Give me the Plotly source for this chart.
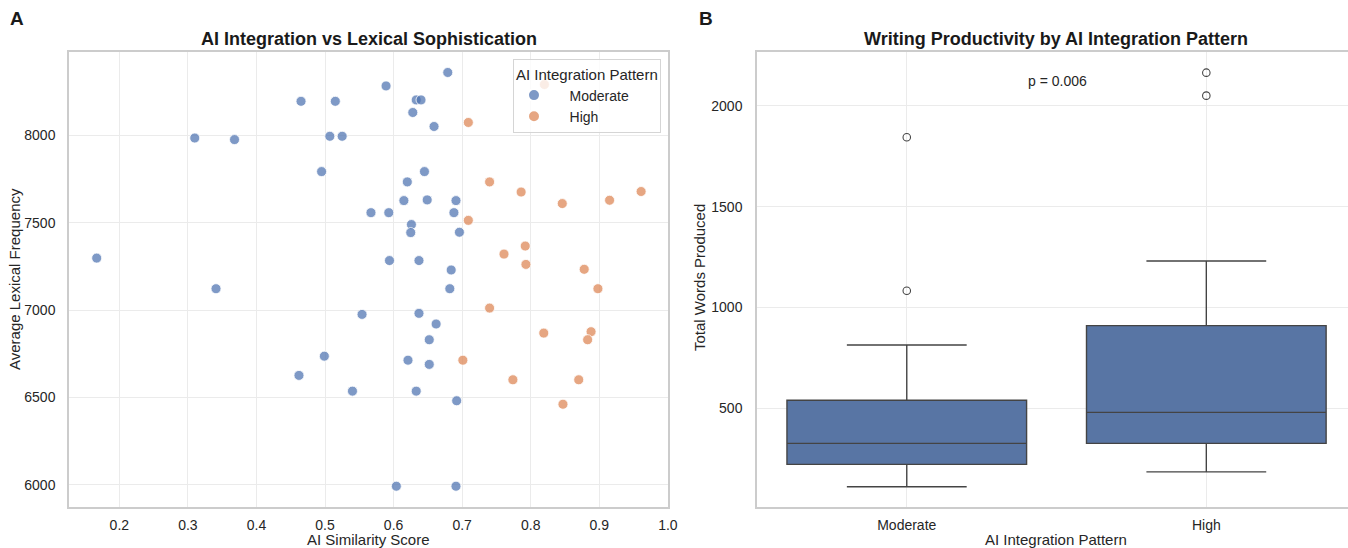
import plotly.graph_objects as go

# ---------------- data ----------------
mod_x = [0.167, 0.341, 0.310, 0.368, 0.465, 0.515, 0.507, 0.525, 0.495, 0.567,
         0.679, 0.589, 0.633, 0.640, 0.628, 0.659, 0.645, 0.620, 0.615, 0.649,
         0.691, 0.593, 0.688, 0.626, 0.625, 0.696, 0.594, 0.637, 0.684, 0.682,
         0.554, 0.637, 0.662, 0.652, 0.499, 0.621, 0.652, 0.462, 0.540, 0.633,
         0.692, 0.604, 0.691]
mod_y = [7297, 7122, 7984, 7975, 8194, 8194, 7994, 7994, 7792, 7557,
         8359, 8282, 8202, 8202, 8130, 8050, 7792, 7733, 7626, 7630,
         7626, 7557, 7557, 7489, 7443, 7445, 7283, 7283, 7229, 7122,
         6975, 6981, 6920, 6830, 6736, 6713, 6689, 6626, 6536, 6536,
         6481, 5992, 5992]
high_x = [0.820, 0.709, 0.740, 0.786, 0.961, 0.846, 0.915, 0.709, 0.792, 0.761,
          0.793, 0.878, 0.898, 0.740, 0.819, 0.888, 0.883, 0.701, 0.774, 0.870,
          0.847]
high_y = [8290, 8073, 7733, 7675, 7678, 7609, 7628, 7513, 7366, 7320,
          7261, 7233, 7122, 7011, 6868, 6876, 6830, 6713, 6601, 6601,
          6461]

groups = ["Moderate", "High"]
box_lowerfence = [111, 185]
box_q1 = [222, 326]
box_median = [326, 480]
box_q3 = [540, 910]
box_upperfence = [814, 1231]
outliers = {"Moderate": [1083, 1845], "High": [2051, 2165]}
p_text = "p = 0.006"

# ---------------- style ----------------
FW, FH = 1348, 548
FONT = "Liberation Sans, Arial, sans-serif"
TXT = "#262626"
GRID = "#ebebeb"
FRAME = "#cccccc"
BLUE = "rgba(76,114,176,0.72)"
ORANGE = "rgba(221,132,82,0.72)"
BOXFILL = "#5875a4"
BOXLINE = "#444444"
NB = "\u00a0" * 4

def px_x(p):
    return p / FW

def px_y(p):
    return 1 - p / FH

L_left, L_right = 69, 668
R_left = 757
TOP, BOT = 51.5, 506.5

fig = go.Figure()

fig.add_trace(go.Scatter(
    x=mod_x, y=mod_y, mode="markers", name=NB + "Moderate",
    marker=dict(color=BLUE, size=10, line=dict(color="white", width=0.8)),
    xaxis="x", yaxis="y"))
fig.add_trace(go.Scatter(
    x=high_x, y=high_y, mode="markers", name=NB + "High",
    marker=dict(color=ORANGE, size=10, line=dict(color="white", width=0.8)),
    xaxis="x", yaxis="y"))

for i, g in enumerate(groups):
    fig.add_trace(go.Box(
        x=[i], q1=[box_q1[i]], median=[box_median[i]], q3=[box_q3[i]],
        lowerfence=[box_lowerfence[i]], upperfence=[box_upperfence[i]],
        width=0.8, whiskerwidth=0.5, fillcolor=BOXFILL,
        line=dict(color=BOXLINE, width=1.4), boxpoints=False,
        showlegend=False, xaxis="x2", yaxis="y2", hoverinfo="skip"))
    fig.add_trace(go.Scatter(
        x=[i] * len(outliers[g]), y=outliers[g], mode="markers",
        marker=dict(symbol="circle-open", size=7.5, color=BOXLINE, line=dict(width=1.1)),
        showlegend=False, xaxis="x2", yaxis="y2"))

axis_common = dict(
    showgrid=True, gridcolor=GRID, gridwidth=1, zeroline=False,
    showline=True, linecolor=FRAME, linewidth=1.5,
    ticks="outside", tickcolor="rgba(0,0,0,0)",
    tickfont=dict(family=FONT, size=14, color=TXT), automargin=False)

fig.update_layout(
    width=FW, height=FH, margin=dict(l=0, r=0, t=0, b=0),
    paper_bgcolor="white", plot_bgcolor="white",
    font=dict(family=FONT, color=TXT),
    xaxis=dict(domain=[px_x(L_left), px_x(L_right)], range=[0.1266, 1.0002],
               tickvals=[0.2, 0.3, 0.4, 0.5, 0.6, 0.7, 0.8, 0.9, 1.0],
               ticktext=["0.2", "0.3", "0.4", "0.5", "0.6", "0.7", "0.8", "0.9", "1.0"],
               anchor="y", mirror=True, ticklen=5, **axis_common),
    yaxis=dict(domain=[px_y(BOT), px_y(TOP)], range=[5876, 8479],
               tickvals=[6000, 6500, 7000, 7500, 8000], anchor="x", mirror=True,
               ticklen=9, **axis_common),
    xaxis2=dict(domain=[px_x(R_left), 1.0], range=[-0.5, 1.473],
                tickvals=[0, 1], ticktext=groups, anchor="y2", mirror=True,
                ticklen=5, **axis_common),
    yaxis2=dict(domain=[px_y(BOT), px_y(TOP)], range=[13, 2270],
                tickvals=[500, 1000, 1500, 2000], anchor="x2", mirror=False,
                ticklen=10, **axis_common),
    legend=dict(
        x=px_x(661), y=px_y(59), xanchor="right", yanchor="top",
        bgcolor="rgba(255,255,255,0.8)", bordercolor="#d5d5d5", borderwidth=1,
        title=dict(text="AI Integration Pattern", font=dict(family=FONT, size=15, color=TXT)),
        font=dict(family=FONT, size=14, color=TXT), itemsizing="constant",
        tracegroupgap=0),
)

ann = []
def add_text(text, x, y, size, bold=False, angle=0):
    ann.append(dict(text=f"<b>{text}</b>" if bold else text, x=px_x(x), y=px_y(y),
                    xref="paper", yref="paper", showarrow=False, textangle=angle,
                    xanchor="center", yanchor="middle",
                    font=dict(family=FONT, size=size, color=TXT if not bold else "#1a1a1a")))

add_text("A", 17, 18, 19, bold=True)
add_text("B", 706, 18, 19, bold=True)
add_text("AI Integration vs Lexical Sophistication", (L_left + L_right) / 2, 39, 18, bold=True)
add_text("Writing Productivity by AI Integration Pattern", 1056, 39, 18, bold=True)
add_text("AI Similarity Score", (L_left + L_right) / 2, 539, 15)
add_text("AI Integration Pattern", 1056, 539, 15)
add_text("Average Lexical Frequency", 14, 279, 15, angle=-90)
add_text("Total Words Produced", 699, 278, 15, angle=-90)
add_text(p_text, 1057, 81, 14)
fig.update_layout(annotations=ann)

fig.write_html("out.html", config={"displayModeBar": False},
               post_script="document.body.style.margin='0';document.body.style.overflow='hidden';")
